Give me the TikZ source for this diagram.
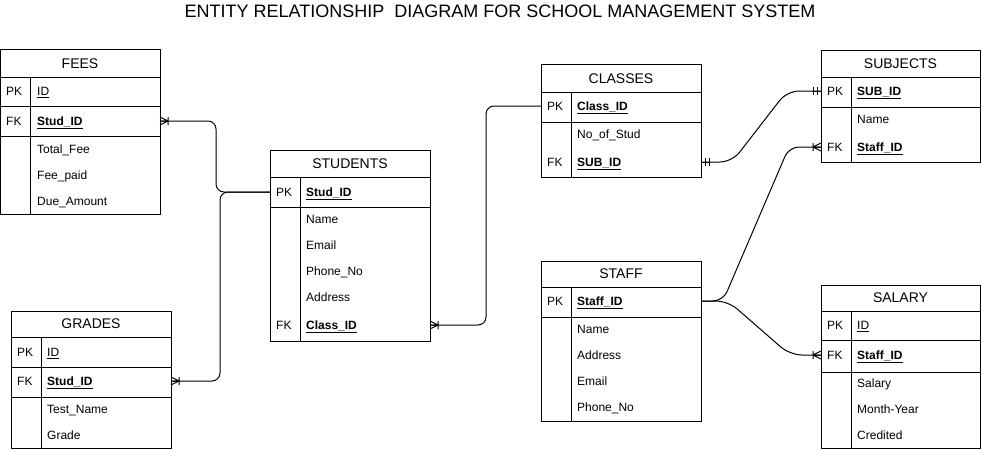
\documentclass[tikz,border=0pt]{standalone}
\usepackage{fontspec}
\setmainfont{Liberation Sans}
\usetikzlibrary{calc}
\begin{document}
\begin{tikzpicture}[x=1pt,y=-1pt,
  tbl/.style={draw, line width=1pt, inner sep=0pt, outer sep=0pt, anchor=north west},
  sepl/.style={line width=1pt},
  ttl/.style={font=\fontsize{14}{16}\selectfont, inner sep=0pt},
  txt/.style={font=\fontsize{12}{14}\selectfont, inner sep=0pt, anchor=west, text height=8.6pt, text depth=0pt},
  keyt/.style={txt, font=\fontsize{12}{14}\selectfont\bfseries},
  conn/.style={line width=1pt, line join=round},
  pics/onemany/.style={code={\draw[conn] (0,-4) -- (8,0) -- (0,4) (0,0) -- (8,0) (8,-4) -- (8,4);}},
  pics/mandone/.style={code={\draw[conn] (0,0) -- (9,0) (4,-4) -- (4,4) (8,-4) -- (8,4);}}
]
\useasboundingbox (0,0) rectangle (982,452);

\node[font=\fontsize{18}{20}\selectfont] (title) at (500,11) {ENTITY RELATIONSHIP~ DIAGRAM FOR SCHOOL MANAGEMENT SYSTEM};

% FEES
\begin{scope}[shift={(0,50)}]
\node[tbl, minimum width=160pt, minimum height=164pt] (fees) at (0,0) {};
\draw[sepl] (0,27) -- (160,27) (0,56) -- (160,56) (0,86) -- (160,86) (30,27) -- (30,164);
\node[ttl] (feesT) at (80,13.5) {FEES};
\node[txt] (feesPKl) at (6,41) {PK};
\node[txt] (feesPK) at (37,41) {\underline{ID}};
\node[txt] (feesFKl) at (6,71) {FK};
\node[keyt] (feesFKt) at (37,71) {\underline{Stud\_ID}};
\node[txt] (feesA1) at (37,99) {Total\_Fee};
\node[txt] (feesA2) at (37,125) {Fee\_paid};
\node[txt] (feesA3) at (37,151) {Due\_Amount};
\coordinate (feesFK) at (160,71);
\end{scope}

% GRADES
\begin{scope}[shift={(11,311)}]
\node[tbl, minimum width=160pt, minimum height=137pt] (grades) at (0,0) {};
\draw[sepl] (0,26) -- (160,26) (0,56) -- (160,56) (0,86) -- (160,86) (30,26) -- (30,137);
\node[ttl] (gradesT) at (80,13) {GRADES};
\node[txt] (gradesPKl) at (6,41) {PK};
\node[txt] (gradesPK) at (36,41) {\underline{ID}};
\node[txt] (gradesFKl) at (6,70) {FK};
\node[keyt] (gradesFKt) at (36,70) {\underline{Stud\_ID}};
\node[txt] (gradesA1) at (36,98) {Test\_Name};
\node[txt] (gradesA2) at (36,124) {Grade};
\coordinate (gradesFK) at (160,70);
\end{scope}

% STUDENTS
\begin{scope}[shift={(270,150)}]
\node[tbl, minimum width=160pt, minimum height=191pt] (stud) at (0,0) {};
\draw[sepl] (0,27) -- (160,27) (0,57) -- (160,57) (30,27) -- (30,191);
\node[ttl] (studT) at (80,13.5) {STUDENTS};
\node[txt] (studPKl) at (6,42) {PK};
\node[keyt] (studPKt) at (36,42) {\underline{Stud\_ID}};
\node[txt] (studA1) at (36,69) {Name};
\node[txt] (studA2) at (36,95) {Email};
\node[txt] (studA3) at (36,121) {Phone\_No};
\node[txt] (studA4) at (36,147) {Address};
\node[txt] (studFKl) at (6,175) {FK};
\node[keyt] (studFKt) at (36,175) {\underline{Class\_ID}};
\coordinate (studPK) at (0,42);
\coordinate (studFK) at (160,175);
\end{scope}

% CLASSES
\begin{scope}[shift={(541,65)}]
\node[tbl, minimum width=160pt, minimum height=112pt] (cls) at (0,0) {};
\draw[sepl] (0,27) -- (160,27) (0,57) -- (160,57) (30,27) -- (30,112);
\node[ttl] (clsT) at (80,13.5) {CLASSES};
\node[txt] (clsPKl) at (6,41) {PK};
\node[keyt] (clsPKt) at (36,41) {\underline{Class\_ID}};
\node[txt] (clsA1) at (36,69) {No\_of\_Stud};
\node[txt] (clsFKl) at (6,97) {FK};
\node[keyt] (clsFKt) at (36,97) {\underline{SUB\_ID}};
\coordinate (clsPK) at (0,41);
\coordinate (clsFK) at (160,97);
\end{scope}

% SUBJECTS
\begin{scope}[shift={(821,51)}]
\node[tbl, minimum width=159pt, minimum height=111pt] (sub) at (0,0) {};
\draw[sepl] (0,26) -- (159,26) (0,56) -- (159,56) (30,26) -- (30,111);
\node[ttl] (subT) at (79.5,13) {SUBJECTS};
\node[txt] (subPKl) at (6,40) {PK};
\node[keyt] (subPKt) at (36,40) {\underline{SUB\_ID}};
\node[txt] (subA1) at (36,68) {Name};
\node[txt] (subFKl) at (6,96) {FK};
\node[keyt] (subFKt) at (36,96) {\underline{Staff\_ID}};
\coordinate (subPK) at (0,40);
\coordinate (subFK) at (0,96);
\end{scope}

% STAFF
\begin{scope}[shift={(541,261)}]
\node[tbl, minimum width=160pt, minimum height=160pt] (staff) at (0,0) {};
\draw[sepl] (0,26) -- (160,26) (0,56) -- (160,56) (30,26) -- (30,160);
\node[ttl] (staffT) at (80,13) {STAFF};
\node[txt] (staffPKl) at (6,40) {PK};
\node[keyt] (staffPKt) at (36,40) {\underline{Staff\_ID}};
\node[txt] (staffA1) at (36,68) {Name};
\node[txt] (staffA2) at (36,94) {Address};
\node[txt] (staffA3) at (36,120) {Email};
\node[txt] (staffA4) at (36,146) {Phone\_No};
\coordinate (staffPK) at (160,40);
\end{scope}

% SALARY
\begin{scope}[shift={(821,285)}]
\node[tbl, minimum width=159pt, minimum height=163pt] (sal) at (0,0) {};
\draw[sepl] (0,26) -- (159,26) (0,55) -- (159,55) (0,87) -- (159,87) (30,26) -- (30,163);
\node[ttl] (salT) at (79.5,13) {SALARY};
\node[txt] (salPKl) at (6,40) {PK};
\node[txt] (salPKt) at (36,40) {\underline{ID}};
\node[txt] (salFKl) at (6,70) {FK};
\node[keyt] (salFKt) at (36,70) {\underline{Staff\_ID}};
\node[txt] (salA1) at (36,98) {Salary};
\node[txt] (salA2) at (36,124) {Month-Year};
\node[txt] (salA3) at (36,150) {Credited};
\coordinate (salFK) at (0,70);
\end{scope}

% connectors
\draw[conn, rounded corners=8pt] (feesFK) -- ++(56,0) |- (studPK);
\draw[conn, rounded corners=8pt] (gradesFK) -- ++(49,0) |- (studPK);
\draw[conn, rounded corners=8pt] (studFK) -- ++(56,0) |- (clsPK);
\draw[conn, rounded corners=12pt] (clsFK) -- ++(31,0) -- ($(subPK)+(-34,0)$) -- (subPK);
\draw[conn, rounded corners=10pt] (staffPK) -- ++(22,0) -- ($(subFK)+(-32,0)$) -- (subFK);
\draw[conn, rounded corners=12pt] (staffPK) -- ++(27,0) -- ($(salFK)+(-31,0)$) -- (salFK);

% markers
\pic at (feesFK) {onemany};
\pic at (gradesFK) {onemany};
\pic at (studFK) {onemany};
\pic[xscale=-1] at (subFK) {onemany};
\pic[xscale=-1] at (salFK) {onemany};
\pic at (clsFK) {mandone};
\pic[xscale=-1] at (subPK) {mandone};
\end{tikzpicture}
\end{document}
